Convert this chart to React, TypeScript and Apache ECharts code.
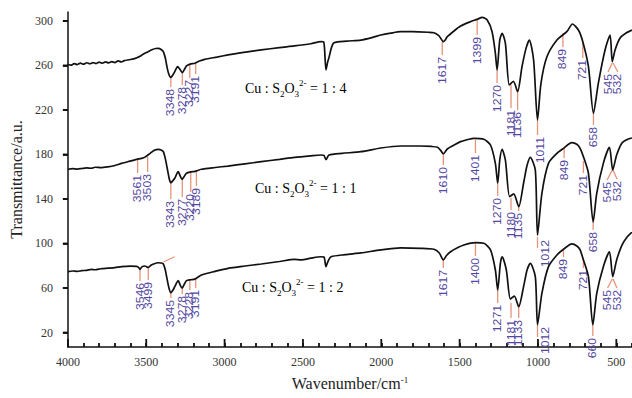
import React, { useEffect, useRef } from "react";
import * as echarts from "echarts";

// Cu : S2O3(2-) = 1 : 4  (upper trace)  [wavenumber, transmittance]
const spectrum14: number[][] = [
  [4000, 261.0], [3980, 260.2], [3960, 261.6], [3940, 260.8], [3920, 262.0], [3900, 261.1], [3880, 262.4],
  [3860, 261.5], [3840, 262.6], [3820, 261.7], [3800, 262.9], [3780, 262.0], [3760, 263.2], [3740, 262.3],
  [3720, 263.4], [3700, 262.6], [3680, 264.0], [3660, 263.2], [3640, 264.3], [3620, 264.9], [3600, 265.3],
  [3580, 265.9], [3560, 266.9], [3540, 268.3], [3520, 270.0], [3500, 271.5], [3480, 273.0], [3460, 274.3],
  [3440, 275.2], [3423, 275.4], [3405, 274.3], [3391, 272.3], [3378, 266.5], [3370, 260.4], [3358, 253.0],
  [3343, 249.3], [3330, 251.5], [3318, 254.4], [3300, 258.9], [3285, 256.5], [3270, 253.5], [3256, 256.5],
  [3243, 259.5], [3220, 261.2], [3190, 262.0], [3160, 264.0], [3127, 265.5], [3050, 267.5], [2978, 269.4],
  [2900, 271.2], [2766, 273.9], [2650, 276.0], [2554, 277.5], [2450, 279.5], [2385, 281.3], [2367, 281.0],
  [2353, 256.0], [2342, 263.3], [2334, 267.0], [2318, 276.0], [2302, 280.4], [2220, 281.8], [2130, 282.8],
  [2060, 285.0], [2003, 287.3], [1940, 289.0], [1876, 290.3], [1800, 290.3], [1700, 289.8], [1664, 289.4],
  [1635, 287.0], [1621, 284.4], [1604, 281.3], [1590, 283.3], [1579, 285.8], [1540, 290.5], [1494, 295.4],
  [1431, 299.3], [1388, 301.4], [1356, 303.2], [1324, 300.8], [1293, 290.3], [1272, 270.9], [1261, 255.9],
  [1244, 282.8], [1229, 288.9], [1208, 279.9], [1183, 242.4], [1157, 245.6], [1130, 236.4], [1102, 258.9],
  [1075, 276.0], [1055, 282.8], [1028, 264.9], [1003, 211.0], [981, 243.9], [943, 267.8], [879, 282.8],
  [816, 290.3], [780, 297.2], [742, 291.8], [714, 281.3], [678, 258.9], [646, 217.0], [615, 243.9],
  [572, 273.9], [540, 287.3], [526, 263.3], [508, 273.9], [477, 284.4], [438, 289.1], [400, 291.8],
];

// Cu : S2O3(2-) = 1 : 1  (middle trace)
const spectrum11: number[][] = [
  [4000, 166.7], [3970, 167.3], [3940, 166.9], [3911, 167.4], [3880, 167.9], [3850, 167.6], [3826, 168.5],
  [3790, 168.2], [3746, 168.9], [3700, 170.1], [3657, 172.0], [3610, 173.8], [3561, 175.6], [3530, 176.5],
  [3508, 177.6], [3475, 181.0], [3445, 184.0], [3423, 184.6], [3405, 184.0], [3391, 182.5], [3378, 176.0],
  [3364, 166.0], [3353, 158.0], [3343, 154.6], [3330, 156.5], [3318, 158.6], [3296, 164.5], [3283, 160.5],
  [3271, 157.7], [3257, 160.5], [3243, 163.1], [3216, 164.3], [3190, 164.8], [3148, 166.7], [3060, 168.3],
  [2978, 169.6], [2870, 171.6], [2766, 173.5], [2650, 175.6], [2554, 177.4], [2450, 178.8], [2385, 179.5],
  [2366, 179.1], [2353, 175.3], [2334, 179.5], [2250, 181.0], [2130, 182.5], [2003, 185.8], [1876, 187.6],
  [1749, 187.6], [1680, 187.2], [1642, 186.4], [1620, 183.5], [1604, 180.4], [1590, 182.8], [1579, 184.9],
  [1540, 188.0], [1494, 191.5], [1440, 193.7], [1410, 194.5], [1346, 193.6], [1303, 188.5], [1272, 172.0],
  [1257, 154.1], [1244, 175.0], [1229, 184.6], [1208, 175.0], [1181, 142.1], [1155, 144.5], [1123, 133.1],
  [1092, 154.1], [1070, 170.0], [1049, 177.4], [1017, 166.0], [1003, 107.5], [975, 145.1], [933, 172.0],
  [879, 181.0], [837, 185.5], [784, 190.6], [750, 189.0], [731, 185.5], [710, 178.0], [678, 163.1],
  [648, 119.3], [625, 145.1], [583, 172.0], [544, 186.4], [523, 166.0], [498, 179.5], [464, 190.3],
  [430, 193.5], [400, 194.8],
];

// Cu : S2O3(2-) = 1 : 2  (lower trace)
const spectrum12: number[][] = [
  [4000, 74.7], [3970, 75.3], [3940, 74.9], [3911, 75.6], [3880, 75.9], [3850, 76.8], [3826, 76.4],
  [3790, 77.3], [3746, 77.8], [3700, 78.3], [3657, 79.2], [3600, 79.6], [3561, 79.4], [3548, 78.4],
  [3540, 76.8], [3528, 79.0], [3508, 79.8], [3495, 78.8], [3487, 78.6], [3470, 80.4], [3453, 81.6],
  [3423, 82.7], [3405, 82.5], [3391, 81.6], [3378, 76.0], [3370, 70.2], [3356, 60.5], [3343, 55.8],
  [3330, 58.0], [3318, 61.2], [3296, 66.6], [3283, 62.5], [3271, 59.8], [3257, 63.5], [3243, 66.6],
  [3216, 67.4], [3190, 68.0], [3148, 71.7], [3060, 75.0], [2978, 77.7], [2870, 79.8], [2766, 81.6],
  [2650, 83.8], [2554, 85.8], [2512, 85.2], [2450, 86.8], [2385, 88.1], [2366, 87.9], [2353, 79.2],
  [2340, 84.0], [2321, 88.1], [2230, 90.0], [2130, 91.5], [2003, 94.2], [1876, 96.0], [1749, 95.7],
  [1664, 94.8], [1630, 91.5], [1604, 85.2], [1585, 89.0], [1558, 92.6], [1520, 95.7], [1473, 98.6],
  [1399, 100.7], [1346, 100.2], [1303, 94.2], [1272, 76.2], [1257, 58.2], [1240, 82.2], [1229, 88.1],
  [1202, 76.2], [1176, 50.1], [1151, 52.8], [1123, 43.2], [1092, 61.2], [1070, 76.0], [1049, 82.2],
  [1017, 70.2], [1003, 27.0], [975, 55.2], [933, 79.2], [879, 89.7], [837, 94.8], [784, 99.6],
  [750, 97.5], [731, 94.2], [710, 85.2], [678, 70.2], [650, 26.8], [625, 55.2], [583, 79.2],
  [544, 92.6], [523, 70.2], [498, 85.2], [464, 98.6], [430, 106.0], [400, 110.3],
];

// Peak annotations: [label, w from, value from, w to, value to, label dx(px), label dy(px)]
type Ann = [string, number, number, number, number, number?, number?];
const peaks14: Ann[] = [
  ["3348", 3343, 248.7, 3343, 240.6],
  ["3278", 3270, 253.2, 3270, 242.4],
  ["3227", 3222, 261.3, 3222, 248.7],
  ["3191", 3184, 262.2, 3184, 252.3],
  ["1617", 1611, 281.0, 1611, 269.4],
  ["1399", 1388, 300.8, 1388, 287.3],
  ["1270", 1261, 255.9, 1261, 244.2],
  ["1181", 1172, 242.4, 1172, 221.7],
  ["1136", 1130, 236.1, 1130, 219.9],
  ["1011", 1003, 211.0, 1003, 197.5, 3, 0],
  ["849", 841, 289.1, 841, 276.6],
  ["721", 714, 281.0, 714, 266.7],
  ["658", 646, 217.3, 646, 206.5],
  ["545", 526, 262.2, 553, 254.1],
  ["532", 521, 262.2, 490, 254.1],
];
const peaks11: Ann[] = [
  ["3561", 3555, 175.9, 3555, 163.3],
  ["3503", 3491, 177.7, 3491, 164.2],
  ["3343", 3343, 154.4, 3343, 140.0],
  ["3277", 3270, 158.0, 3270, 141.8],
  ["3220", 3216, 164.2, 3216, 146.3],
  ["3189", 3180, 165.1, 3180, 151.7],
  ["1610", 1604, 179.5, 1604, 170.5],
  ["1401", 1399, 193.0, 1399, 181.3],
  ["1270", 1257, 153.5, 1257, 142.7],
  ["1180", 1172, 140.9, 1172, 130.1],
  ["1135", 1123, 134.6, 1123, 129.2],
  ["1012", 1003, 105.8, 1003, 95.9, 8, -10],
  ["849", 833, 185.8, 833, 176.8],
  ["721", 710, 174.1, 710, 163.3],
  ["658", 648, 119.3, 648, 112.1],
  ["545", 526, 166.0, 559, 157.0],
  ["532", 521, 166.0, 496, 158.0],
];
const peaks12: Ann[] = [
  ["3546", 3540, 77.1, 3540, 66.3],
  ["3499", 3487, 78.9, 3487, 67.2],
  ["", 3391, 83.4, 3318, 88.1],
  ["3345", 3343, 55.5, 3343, 51.0],
  ["3278", 3270, 60.0, 3270, 54.6],
  ["3228", 3222, 67.2, 3222, 58.2],
  ["3191", 3184, 68.1, 3184, 60.0],
  ["1617", 1604, 85.2, 1604, 78.0],
  ["1400", 1399, 100.4, 1399, 88.8],
  ["1271", 1257, 58.2, 1257, 46.5],
  ["1181", 1172, 46.5, 1172, 33.1],
  ["1133", 1123, 43.0, 1123, 33.1],
  ["1012", 1003, 26.8, 1003, 16.0, 8, -12],
  ["849", 837, 95.1, 837, 87.9],
  ["721", 710, 87.0, 710, 78.0],
  ["660", 650, 26.8, 650, 16.9],
  ["545", 526, 68.1, 556, 60.0],
  ["532", 521, 68.1, 496, 60.0],
];

const ratioLabels = ["1 : 4", "1 : 1", "1 : 2"];
const xMajorTicks = [500, 1000, 1500, 2000, 2500, 3000, 3500, 4000];
const yTicks = [20, 60, 100, 140, 180, 220, 260, 300];

const SERIF = '"Liberation Serif", "Times New Roman", serif';
const SANS = '"Liberation Sans", Arial, sans-serif';

export default function App() {
  const ref = useRef<HTMLDivElement>(null);

  useEffect(() => {
    if (!ref.current) return;
    const chart = echarts.init(ref.current, undefined, { renderer: "svg" });
    const allPeaks: Ann[] = [...peaks14, ...peaks11, ...peaks12];
    const X_MIN = 400;
    const X_MAX = 4000;
    const Y_MIN = 7;
    const Y_MAX = 308;

    const rich = {
      n: { fontFamily: SERIF, fontSize: 14, color: "#222", lineHeight: 20, verticalAlign: "middle" },
      sub: { fontFamily: SERIF, fontSize: 9, color: "#222", lineHeight: 9, verticalAlign: "bottom" },
      sup: { fontFamily: SERIF, fontSize: 9, color: "#222", lineHeight: 9, verticalAlign: "top" },
    };
    const ratioText = (r: string) => `{n|Cu : S}{sub|2}{n|O}{sub|3}{sup|2-}{n| = ${r}}`;
    const labelPos = [
      [245, 88],
      [255, 188],
      [242, 287],
    ];
    const ratioGraphics = labelPos.map((p, i) => ({
      type: "text",
      x: p[0],
      y: p[1],
      style: { text: ratioText(ratioLabels[i]), rich, verticalAlign: "middle", align: "left" },
    }));

    const axisLineStyle = { color: "#111", width: 1.5 };

    chart.setOption({
      animation: false,
      backgroundColor: "#fff",
      grid: { left: 66, right: 0, top: 12, bottom: 51, containLabel: false },
      xAxis: {
        type: "value",
        min: X_MIN,
        max: X_MAX,
        interval: 100,
        inverse: true,
        splitLine: { show: false },
        axisLine: { show: true, lineStyle: axisLineStyle },
        axisTick: { show: true, inside: true, length: 4, lineStyle: { color: "#111", width: 1.8 } },
        axisLabel: {
          show: true,
          customValues: xMajorTicks,
          formatter: (v: number) => String(v),
          fontFamily: SERIF,
          fontSize: 12,
          color: "#333",
          margin: 9,
        },
        name: "Wavenumber/cm{sup|-1}",
        nameLocation: "middle",
        nameGap: 28,
        nameTextStyle: {
          fontFamily: SERIF,
          fontSize: 16,
          color: "#222",
          rich: { sup: { fontFamily: SERIF, fontSize: 9, color: "#222", verticalAlign: "top", lineHeight: 9 } },
        },
      },
      yAxis: {
        type: "value",
        min: Y_MIN,
        max: Y_MAX,
        axisLine: { show: true, lineStyle: axisLineStyle },
        axisTick: {
          show: true,
          inside: false,
          length: 5,
          customValues: yTicks,
          lineStyle: { color: "#111", width: 1.8 },
        },
        axisLabel: {
          show: true,
          customValues: yTicks,
          formatter: (v: number) => String(v),
          fontFamily: SERIF,
          fontSize: 12,
          color: "#333",
          margin: 15,
        },
        splitLine: { show: false },
        name: "Transmittance/a.u.",
        nameLocation: "middle",
        nameGap: 40,
        nameTextStyle: { fontFamily: SERIF, fontSize: 16, color: "#222" },
      },
      graphic: ratioGraphics,
      series: [
        ...[spectrum14, spectrum11, spectrum12].map((d) => ({
          type: "line",
          data: d,
          showSymbol: false,
          smooth: 0.25,
          lineStyle: { color: "#111", width: 1.7 },
          z: 3,
        })),
        {
          type: "custom",
          data: allPeaks.map((a) => [a[1], a[2], a[3], a[4]]),
          encode: { x: [0, 2], y: [1, 3] },
          clip: false,
          silent: true,
          z: 2,
          renderItem: (params: any, api: any) => {
            const a = allPeaks[params.dataIndex];
            const p1 = api.coord([a[1], a[2]]);
            const p2 = api.coord([a[3], a[4]]);
            const dx = a[5] || 0;
            const dy = a[6] || 0;
            const children: any[] = [
              {
                type: "line",
                shape: { x1: p1[0], y1: p1[1], x2: p2[0], y2: p2[1] },
                style: { stroke: "#e79479", lineWidth: 1.3 },
              },
            ];
            if (a[0]) {
              children.push({
                type: "text",
                x: p2[0] + dx,
                y: p2[1] + 2 + dy,
                rotation: Math.PI / 2,
                scaleX: 1.22,
                scaleY: 1,
                style: {
                  text: a[0],
                  fill: "#5246a0",
                  font: `10px ${SANS}`,
                  align: "right",
                  verticalAlign: "middle",
                },
              });
            }
            return { type: "group", children };
          },
        },
      ],
    });

    // longer major ticks on x and the y ticks, placed through the chart's own scales
    const tickLines: any[] = [];
    const addTick = (w: number, v: number, dx: number, dy: number) => {
      const p = chart.convertToPixel({ gridIndex: 0 }, [w, v]) as number[];
      if (!p) return;
      tickLines.push({
        type: "line",
        z: 100,
        silent: true,
        shape: { x1: p[0], y1: p[1], x2: p[0] + dx, y2: p[1] + dy },
        style: { stroke: "#111", lineWidth: 1.8 },
      });
    };
    xMajorTicks.forEach((w) => addTick(w, Y_MIN, 0, -8));
    yTicks.forEach((v) => addTick(X_MAX, v, -5, 0));
    chart.setOption({ graphic: [...ratioGraphics, ...tickLines] });

    return () => chart.dispose();
  }, []);

  return (
    <div
      ref={ref}
      style={{ position: "fixed", left: 0, top: 0, width: 632, height: 398, background: "#fff" }}
    />
  );
}
